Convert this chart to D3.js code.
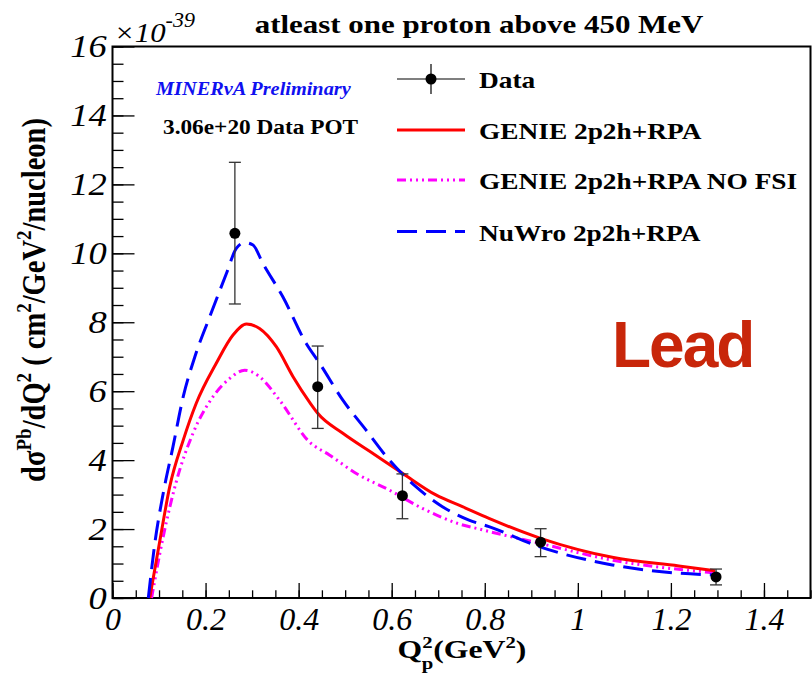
<!DOCTYPE html>
<html>
<head>
<meta charset="utf-8">
<script src="https://cdn.jsdelivr.net/npm/d3@7"></script>
<style>
  body { margin: 0; background: #fff; }
</style>
</head>
<body>
<svg id="plot" width="812" height="677"></svg>
<script>
// Data points (Q2 in GeV^2, xsec in 1e-39 cm2/GeV2/nucleon)
const dataQ2   = [0.263, 0.441, 0.623, 0.920, 1.297];
const dataVal  = [10.58, 6.13, 2.97, 1.62, 0.61];
const dataHigh = [12.64, 7.31, 3.60, 2.01, 0.84];
const dataLow  = [8.53, 4.92, 2.30, 1.20, 0.38];

// GENIE 2p2h+RPA
const genieQ2  = [0.080, 0.102, 0.123, 0.152, 0.180, 0.223, 0.259, 0.288, 0.316, 0.352, 0.388, 0.423, 0.441, 0.495, 0.559, 0.623, 0.695, 0.752, 0.809, 0.920, 1.074, 1.217, 1.295];
const genieVal = [0, 1.68, 3.23, 4.58, 5.65, 6.81, 7.63, 7.95, 7.82, 7.29, 6.42, 5.69, 5.36, 4.78, 4.20, 3.62, 2.99, 2.65, 2.31, 1.73, 1.18, 0.93, 0.79];

// GENIE 2p2h+RPA NO FSI
const nofsiQ2  = [0.084, 0.109, 0.138, 0.173, 0.216, 0.252, 0.284, 0.316, 0.359, 0.423, 0.466, 0.523, 0.595, 0.666, 0.745, 0.788, 0.917, 1.074, 1.295];
const nofsiVal = [0, 1.78, 3.42, 4.78, 5.84, 6.37, 6.61, 6.42, 5.74, 4.53, 4.15, 3.62, 3.13, 2.60, 2.15, 2.00, 1.59, 1.10, 0.73];

// NuWro 2p2h+RPA
const nuwroQ2  = [0.077, 0.091, 0.109, 0.130, 0.152, 0.177, 0.209, 0.245, 0.266, 0.284, 0.302, 0.323, 0.366, 0.416, 0.445, 0.495, 0.545, 0.595, 0.652, 0.709, 0.766, 0.809, 0.917, 1.074, 1.217, 1.295];
const nuwroVal = [0, 1.59, 3.04, 4.39, 5.84, 7.00, 8.16, 9.42, 10.14, 10.31, 10.24, 9.71, 8.74, 7.39, 6.81, 5.74, 4.87, 4.00, 3.23, 2.65, 2.26, 2.07, 1.49, 0.96, 0.72, 0.67];

const xTicks = [0, 0.2, 0.4, 0.6, 0.8, 1, 1.2, 1.4];
const yTicks = [0, 2, 4, 6, 8, 10, 12, 14, 16];

const legendLabels = ["Data", "GENIE 2p2h+RPA", "GENIE 2p2h+RPA NO FSI", "NuWro 2p2h+RPA"];

const SERIF = "'Liberation Serif', 'DejaVu Serif', serif";

// frame
const frame = {left: 112.5, right: 810.5, top: 46.5, bottom: 598};

const x = d3.scaleLinear().domain([0, 1.5]).range([frame.left, frame.right]);
const y = d3.scaleLinear().domain([0, 16]).range([frame.bottom, frame.top]);

const svg = d3.select("#plot");

// text helper: the ROOT fonts look a bit wider than Times, so stretch horizontally
function label(px, py, sx) {
  return svg.append("text")
      .attr("transform", "translate(" + px + "," + py + ") scale(" + sx + ",1)")
      .style("font-family", SERIF);
}

// minor ticks
svg.append("g")
    .attr("transform", "translate(" + frame.left + ",0)")
    .call(d3.axisLeft(y).tickValues(d3.range(0, 16.01, 0.5)).tickSize(-11).tickFormat(""))
    .call(g => g.select(".domain").remove())
    .selectAll("line").attr("stroke", "#000").attr("stroke-width", 1.3);
svg.append("g")
    .attr("transform", "translate(0," + frame.bottom + ")")
    .call(d3.axisBottom(x).tickValues(d3.range(0, 1.501, 0.05)).tickSize(-7.7).tickFormat(""))
    .call(g => g.select(".domain").remove())
    .selectAll("line").attr("stroke", "#000").attr("stroke-width", 1.3);

// major ticks + labels
const yAxis = svg.append("g")
    .attr("transform", "translate(" + frame.left + ",0)")
    .call(d3.axisLeft(y).tickValues(yTicks).tickSize(-22).tickPadding(5).tickFormat(d3.format("d")));
yAxis.select(".domain").remove();
yAxis.selectAll("line").attr("stroke", "#000").attr("stroke-width", 1.3);
yAxis.selectAll("text")
    .style("font-family", SERIF)
    .attr("transform", "scale(1.14,1)")
    .attr("font-style", "italic").attr("font-size", 32).attr("fill", "#000");

const xAxis = svg.append("g")
    .attr("transform", "translate(0," + frame.bottom + ")")
    .call(d3.axisBottom(x).tickValues(xTicks).tickSize(-15).tickPadding(9).tickFormat(d => String(d)));
xAxis.select(".domain").remove();
xAxis.selectAll("line").attr("stroke", "#000").attr("stroke-width", 1.3);
xAxis.selectAll("text")
    .style("font-family", SERIF)
    .attr("font-style", "italic").attr("font-size", 32).attr("fill", "#000");

// frame
svg.append("rect")
    .attr("x", frame.left).attr("y", frame.top)
    .attr("width", frame.right - frame.left).attr("height", frame.bottom - frame.top)
    .attr("fill", "none").attr("stroke", "#000").attr("stroke-width", 2);

// curves
const line = d3.line()
    .x(d => x(d[0]))
    .y(d => y(d[1]))
    .curve(d3.curveMonotoneX);

const series = [
  {q: nofsiQ2, v: nofsiVal, color: "#ff00ff", dash: "9,4,2,4,2,4,2,4"},
  {q: genieQ2, v: genieVal, color: "#ff0000", dash: null},
  {q: nuwroQ2, v: nuwroVal, color: "#0000ff", dash: "20,9"}
];

series.forEach(s => {
  svg.append("path")
      .datum(d3.zip(s.q, s.v))
      .attr("d", line)
      .attr("fill", "none")
      .attr("stroke", s.color)
      .attr("stroke-width", 3)
      .attr("stroke-dasharray", s.dash);
});

// data points with error bars
const pts = svg.append("g");
dataQ2.forEach((q, i) => {
  const cx = x(q);
  pts.append("line")
      .attr("x1", cx).attr("x2", cx)
      .attr("y1", y(dataLow[i])).attr("y2", y(dataHigh[i]))
      .attr("stroke", "#333").attr("stroke-width", 1.3);
  [dataLow[i], dataHigh[i]].forEach(v => {
    pts.append("line")
        .attr("x1", cx - 6).attr("x2", cx + 6)
        .attr("y1", y(v)).attr("y2", y(v))
        .attr("stroke", "#333").attr("stroke-width", 1.3);
  });
  pts.append("circle")
      .attr("cx", cx).attr("cy", y(dataVal[i]))
      .attr("r", 5.5).attr("fill", "#000");
});

// legend
const legY = [79, 130, 180, 231.5];
const leg = svg.append("g");
leg.append("line").attr("x1", 397).attr("x2", 465).attr("y1", legY[0]).attr("y2", legY[0])
    .attr("stroke", "#000").attr("stroke-width", 1.2);
leg.append("line").attr("x1", 431).attr("x2", 431).attr("y1", legY[0] - 15).attr("y2", legY[0] + 15)
    .attr("stroke", "#000").attr("stroke-width", 1.2);
leg.append("circle").attr("cx", 431).attr("cy", legY[0]).attr("r", 5.5).attr("fill", "#000");
[series[1], series[0], series[2]].forEach((s, i) => {
  leg.append("line")
      .attr("x1", 397).attr("x2", 465)
      .attr("y1", legY[i + 1]).attr("y2", legY[i + 1])
      .attr("stroke", s.color).attr("stroke-width", 3)
      .attr("stroke-dasharray", s.dash);
});
legendLabels.forEach((t, i) => {
  label(479, legY[i] + 9, 1.14)
      .attr("font-weight", "bold").attr("font-size", 24)
      .text(t);
});

// title
label(479, 33, 1.19)
    .attr("text-anchor", "middle")
    .attr("font-weight", "bold").attr("font-size", 26)
    .text("atleast one proton above 450 MeV");

// exponent
const ex = label(114, 42, 1.1)
    .attr("font-style", "italic").attr("font-size", 28);
ex.append("tspan").text("\u00d710");
ex.append("tspan").attr("dy", -15).attr("font-size", 20).text("-39");

// annotations
label(156, 95, 1.13)
    .attr("font-weight", "bold").attr("font-style", "italic")
    .attr("font-size", 18).attr("fill", "#1010f0")
    .text("MINER\u03bdA Preliminary");
label(163, 133.5, 1.11)
    .attr("font-weight", "bold").attr("font-size", 21)
    .text("3.06e+20 Data POT");

svg.append("text")
    .attr("x", 612).attr("y", 367)
    .style("font-family", "'Liberation Sans', Arial, sans-serif")
    .attr("font-weight", "bold").attr("font-size", 64)
    .attr("letter-spacing", -2)
    .attr("fill", "#c8260a")
    .text("Lead");

// axis titles
const xt = label(462, 658, 1.22)
    .attr("text-anchor", "middle")
    .attr("font-weight", "bold").attr("font-size", 26);
xt.append("tspan").text("Q");
xt.append("tspan").attr("font-size", 17).attr("dy", -10).text("2");
xt.append("tspan").attr("font-size", 17).attr("dx", -9).attr("dy", 21).text("p");
xt.append("tspan").attr("dy", -11).text("(GeV");
xt.append("tspan").attr("font-size", 17).attr("dy", -10).text("2");
xt.append("tspan").attr("dy", 10).text(")");

const yt = svg.append("text")
    .attr("transform", "translate(45,300) scale(1.15,1) rotate(-90)")
    .attr("text-anchor", "middle")
    .style("font-family", SERIF)
    .attr("font-weight", "bold").attr("font-size", 28.5);
yt.append("tspan").text("d\u03c3");
yt.append("tspan").attr("font-size", 19).attr("dy", -12).text("Pb");
yt.append("tspan").attr("dy", 12).text("/dQ");
yt.append("tspan").attr("font-size", 19).attr("dy", -12).text("2");
yt.append("tspan").attr("dy", 12).text(" ( cm");
yt.append("tspan").attr("font-size", 19).attr("dy", -12).text("2");
yt.append("tspan").attr("dy", 12).text("/GeV");
yt.append("tspan").attr("font-size", 19).attr("dy", -12).text("2");
yt.append("tspan").attr("dy", 12).text("/nucleon)");
</script>
</body>
</html>
